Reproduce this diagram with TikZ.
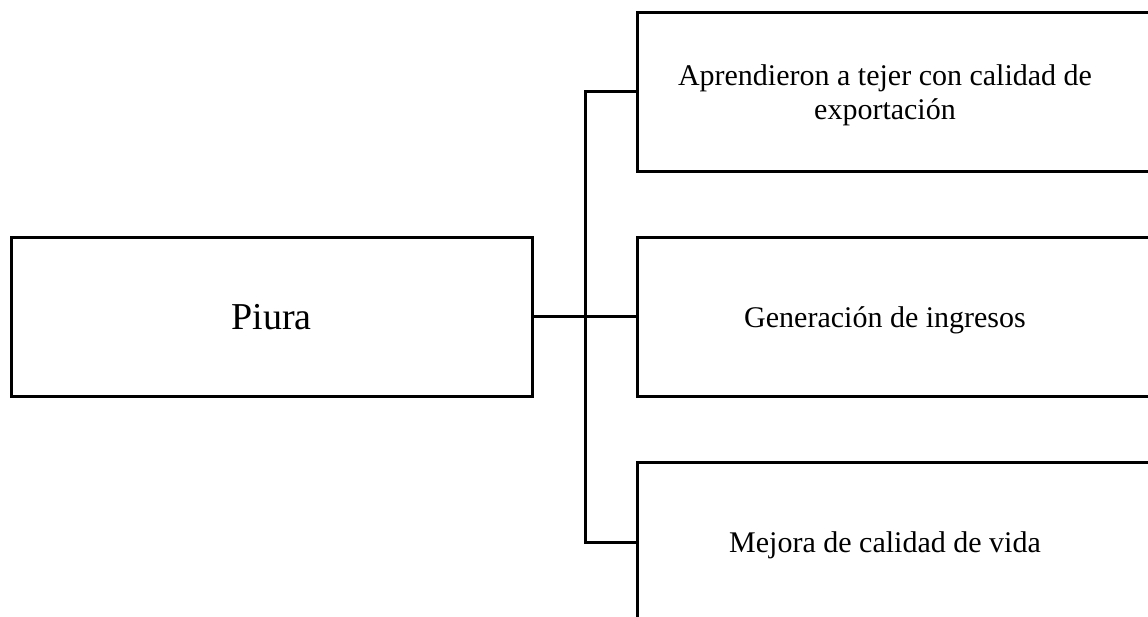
\documentclass[tikz,border=0pt]{standalone}
\usepackage{fontspec}
\setmainfont{Liberation Serif}
\begin{document}
\begin{tikzpicture}[x=1pt,y=1pt,
  box/.style={draw=black, line width=3pt, fill=white, rectangle, inner sep=0pt,
    minimum height=159pt, align=center},
  txt/.style={rectangle, inner sep=0pt, align=center, font=\fontsize{30}{34}\selectfont},
  conn/.style={draw=black, line width=3pt}]
\useasboundingbox (0,0) rectangle (1148,-617);
\clip (0,0) rectangle (1148,-617);
\fill[white] (0,0) rectangle (1148,-617);
\node[box, minimum width=521pt, font=\fontsize{38}{44}\selectfont] (piura) at (271.5,-317) {Piura};
\node[box, minimum width=523pt] (topbox) at (898.5,-92) {};
\node[box, minimum width=523pt] (midbox) at (898.5,-317) {};
\node[box, minimum width=523pt] (botbox) at (898.5,-542) {};
\node[txt] (top) at (885,-95) {Aprendieron a tejer con calidad de\\exportación};
\node[txt] (mid) at (885,-320) {Generación de ingresos};
\node[txt] (bot) at (885,-545) {Mejora de calidad de vida};
\coordinate (j) at (585,-317);
\draw[conn] (piura.east) -- (midbox.west);
\draw[conn] (topbox.west) -| (j) |- (botbox.west);
\end{tikzpicture}
\end{document}
